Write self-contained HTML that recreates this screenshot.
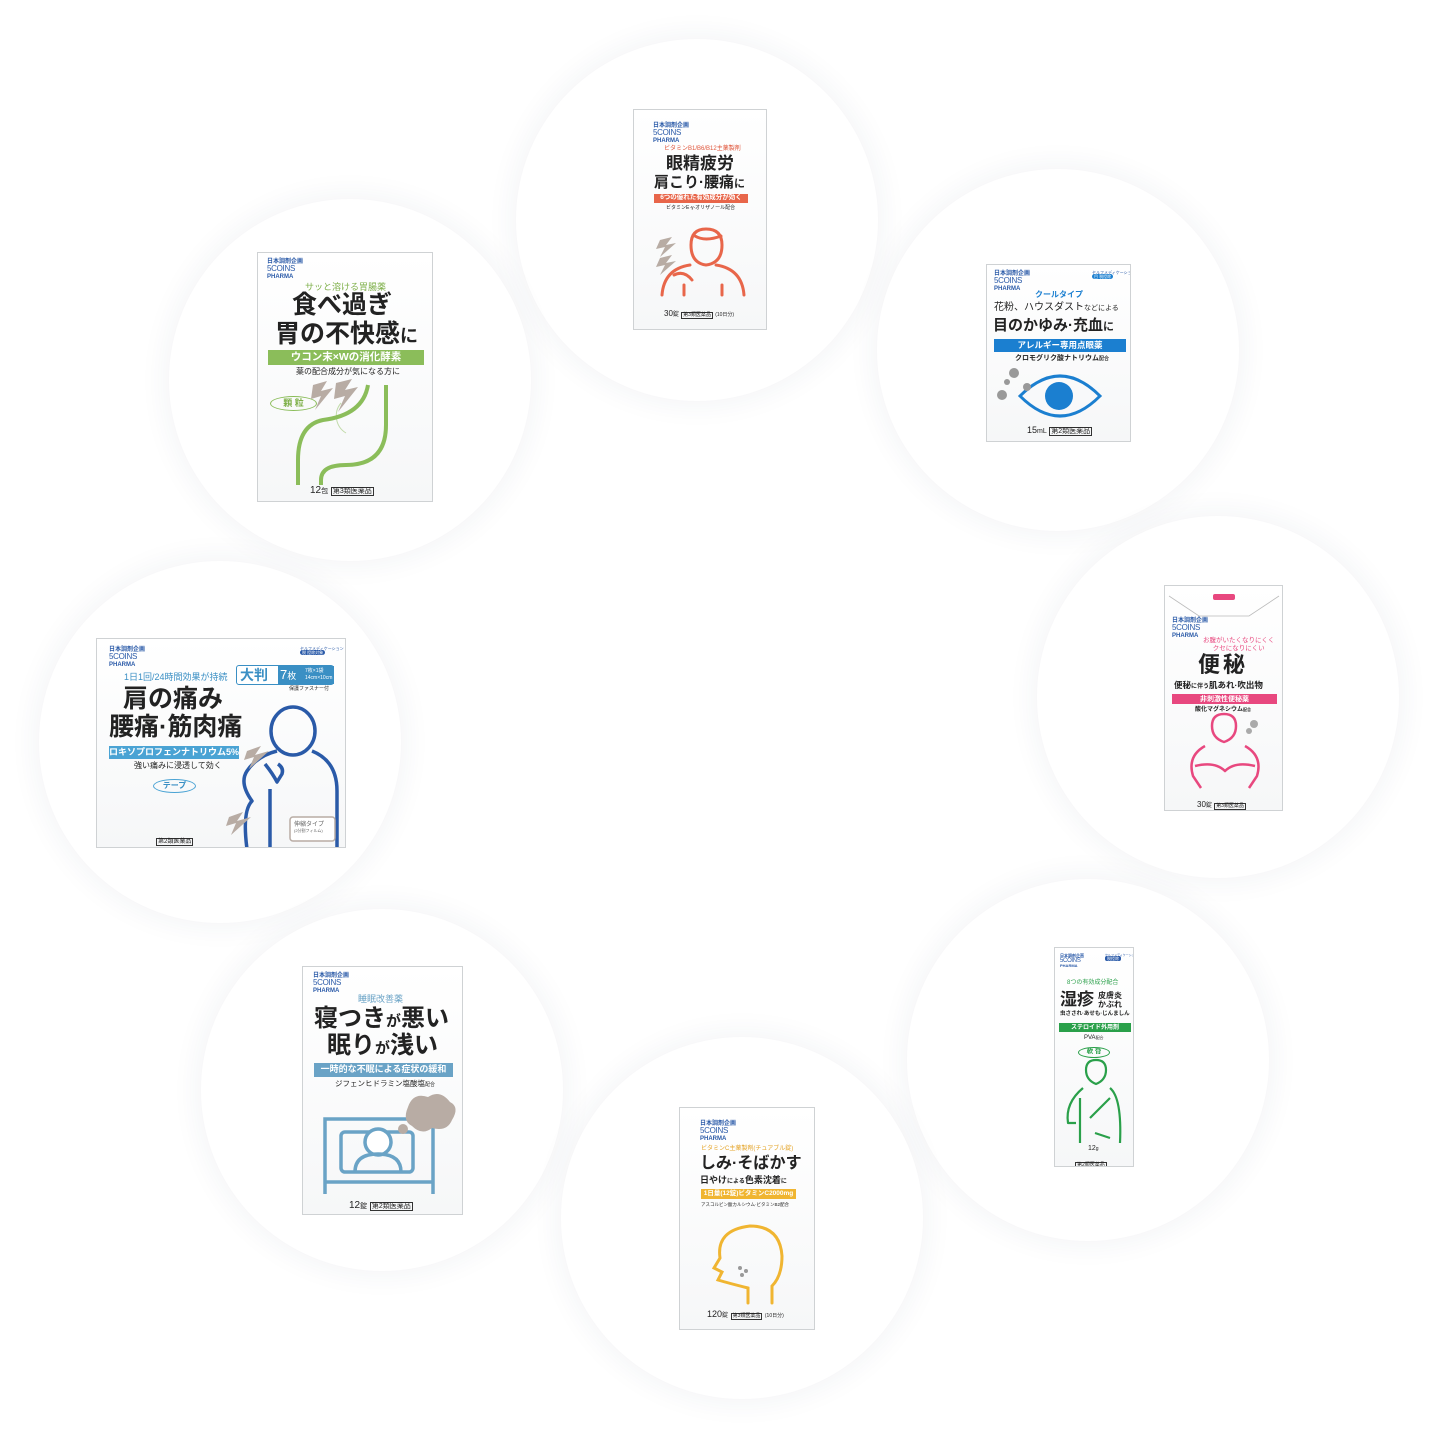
<!DOCTYPE html>
<html><head><meta charset="utf-8">
<style>
*{margin:0;padding:0;box-sizing:border-box}
body{width:1438px;height:1438px;background:#fff;position:relative;overflow:hidden;font-family:"Liberation Sans","Noto Sans CJK JP",sans-serif;color:#222}
.c{position:absolute;width:362px;height:362px;border-radius:50%;background:#fff;box-shadow:0 0 28px 4px rgba(40,50,90,0.055)}
.b{position:absolute;background:linear-gradient(#fff,#f6f7f8);border:1px solid #cfd2d4;overflow:hidden}
.a{position:absolute;white-space:nowrap;line-height:1}
.logo{position:absolute;line-height:1.05;font-size:6px;color:#2a5aa8;font-weight:bold}
.logo b{display:block;font-size:8px;font-weight:normal;letter-spacing:-0.3px}
.band{position:absolute;color:#fff;font-weight:bold;text-align:center;line-height:1}
.k{display:inline-block;border:1px solid #333;padding:0 1px;font-size:7px;line-height:1}
svg{position:absolute;overflow:visible}
</style></head><body>

<div class="c" style="left:516px;top:39px"></div>
<div class="c" style="left:169px;top:199px"></div>
<div class="c" style="left:877px;top:169px"></div>
<div class="c" style="left:39px;top:561px"></div>
<div class="c" style="left:1037px;top:516px"></div>
<div class="c" style="left:201px;top:909px"></div>
<div class="c" style="left:907px;top:879px"></div>
<div class="c" style="left:561px;top:1037px"></div>

<!-- 1 top -->
<div class="b" style="left:633px;top:109px;width:134px;height:221px">
 <div class="logo" style="left:19px;top:13px">日本調剤企画<b>5COINS</b>PHARMA</div>
 <div class="a" style="left:30px;top:36px;font-size:6px;color:#e0553a">ビタミンB1/B6/B12主薬製剤</div>
 <div class="a" style="left:32px;top:45px;font-size:17px;font-weight:bold">眼精疲労</div>
 <div class="a" style="left:20px;top:65px;font-size:15px;font-weight:bold">肩こり·腰痛<span style="font-size:11px">に</span></div>
 <div class="band" style="left:20px;top:84px;width:94px;height:9px;font-size:6.5px;background:#e8664a;padding-top:1px">6つの優れた有効成分が効く</div>
 <div class="a" style="left:32px;top:96px;font-size:5px">ビタミンE·γ-オリザノール配合</div>
 <svg width="134" height="221" style="left:0;top:0">
  <g fill="none" stroke="#e8664a" stroke-width="3" stroke-linecap="round">
   <path d="M57 135 q0 -16 15 -16 q16 0 16 16 q0 18 -16 20 q-15 -2 -15 -20"/>
   <path d="M61 126 q10 6 26 0"/>
   <path d="M28 185 q2 -26 28 -30 M110 185 q-2 -26 -28 -30"/>
   <path d="M50 185 v-10 M88 185 v-10"/>
   <path d="M40 165 q10 -5 18 5"/>
  </g>
  <g fill="#b8aca4"><path d="M26 130 l12 -3 -6 8 10 -2 -16 14 5 -10 -9 2z"/><path d="M26 148 l12 -3 -6 8 10 -2 -16 14 5 -10 -9 2z"/></g>
 </svg>
 <div class="a" style="left:30px;top:200px;font-size:8px">30<span style="font-size:6px">錠</span> <span class="k" style="font-size:5px">第3類医薬品</span> <span style="font-size:5px">(10日分)</span></div>
</div>

<!-- 2 upper-left -->
<div class="b" style="left:257px;top:252px;width:176px;height:250px">
 <div class="logo" style="left:9px;top:6px">日本調剤企画<b>5COINS</b>PHARMA</div>
 <div class="a" style="left:47px;top:30px;font-size:9px;color:#7fb04a">サッと溶ける胃腸薬</div>
 <div class="a" style="left:34px;top:40px;font-size:25px;font-weight:bold;color:#222">食べ過ぎ</div>
 <div class="a" style="left:17px;top:69px;font-size:25px;font-weight:bold;color:#222">胃の不快感<span style="font-size:18px">に</span></div>
 <div class="band" style="left:10px;top:97px;width:156px;height:15px;font-size:10.5px;background:#8bbd5a;padding-top:2px">ウコン末×Wの消化酵素</div>
 <div class="a" style="left:38px;top:115px;font-size:8px">薬の配合成分が気になる方に</div>
 <div class="a" style="left:12px;top:143px;width:47px;height:15px;border:1.5px solid #8bbd5a;border-radius:50%;color:#7fb04a;font-size:9px;font-weight:bold;text-align:center;padding-top:2px">顆 粒</div>
 <svg width="176" height="250" style="left:0;top:0">
  <g fill="none" stroke="#8bbd5a" stroke-width="4">
   <path d="M110 132 q-5 30 -45 35 q-25 5 -25 40 v25"/>
   <path d="M128 132 v40 q0 40 -40 40 q-25 0 -25 15 v5"/>
   <path d="M83 150 a20 20 0 0 0 5 30" stroke-width="1" opacity=".5"/>
  </g>
  <g fill="#b8aca4"><path d="M55 132 l14 -4 -6 10 12 -3 -18 22 6 -14 -10 3z"/><path d="M78 130 l16 -4 -7 11 13 -3 -20 25 7 -16 -11 3z"/></g>
 </svg>
 <div class="a" style="left:52px;top:233px;font-size:10px">12<span style="font-size:7px">包</span> <span class="k">第3類医薬品</span></div>
</div>

<!-- 3 upper-right -->
<div class="b" style="left:986px;top:264px;width:145px;height:178px">
 <div class="logo" style="left:7px;top:6px">日本調剤企画<b>5COINS</b>PHARMA</div>
 <div class="a" style="left:105px;top:6px;width:34px;height:14px;font-size:4px;color:#2a5aa8">セルフメディケーション<br><span style="background:#1b7fd0;color:#fff;border-radius:3px;padding:0 2px">目 税控除</span></div>
 <div class="a" style="left:48px;top:26px;font-size:8px;color:#1b7fd0;font-weight:bold">クールタイプ</div>
 <div class="a" style="left:7px;top:38px;font-size:10px">花粉、ハウスダスト<span style="font-size:7px">などによる</span></div>
 <div class="a" style="left:6px;top:53px;font-size:15px;font-weight:bold">目のかゆみ·充血<span style="font-size:11px">に</span></div>
 <div class="band" style="left:7px;top:74px;width:132px;height:13px;font-size:8.5px;background:#1b7fd0;padding-top:2px">アレルギー専用点眼薬</div>
 <div class="a" style="left:28px;top:90px;font-size:7px;font-weight:bold">クロモグリク酸ナトリウム<span style="font-size:5px">配合</span></div>
 <svg width="145" height="178" style="left:0;top:0">
  <path d="M33 131 q40 -40 80 0 q-40 40 -80 0z" fill="none" stroke="#1b7fd0" stroke-width="3"/>
  <circle cx="72" cy="131" r="14" fill="#1b7fd0"/>
  <g fill="#999"><circle cx="27" cy="108" r="5"/><circle cx="15" cy="130" r="5"/><circle cx="40" cy="122" r="4"/><circle cx="20" cy="117" r="3"/></g>
 </svg>
 <div class="a" style="left:40px;top:161px;font-size:9px">15<span style="font-size:7px">mL</span> <span class="k">第2類医薬品</span></div>
</div>

<!-- 4 left -->
<div class="b" style="left:96px;top:638px;width:250px;height:210px">
 <div class="logo" style="left:12px;top:8px">日本調剤企画<b>5COINS</b>PHARMA</div>
 <div class="a" style="left:203px;top:8px;font-size:4px;color:#2a5aa8">セルフメディケーション<br><span style="background:#2a5aa8;color:#fff;border-radius:3px;padding:0 2px">税 控除対象</span></div>
 <div class="a" style="left:27px;top:34px;font-size:9px;color:#3a8fc4">1日1回/24時間効果が持続</div>
 <div class="a" style="left:139px;top:26px;width:98px;height:20px;border:1.5px solid #3a8fc4;border-radius:3px;background:#fff">
  <span style="position:absolute;left:3px;top:2px;font-size:14px;font-weight:bold;color:#3a8fc4">大判</span>
  <span style="position:absolute;left:41px;top:0;width:56px;height:18px;background:#3a8fc4;color:#fff;font-size:13px;padding:2px 2px">7<span style="font-size:9px">枚</span><span style="position:absolute;left:27px;top:2px;font-size:5px;line-height:1.3">7枚×1袋<br>14cm×10cm</span></span>
 </div>
 <div class="a" style="left:192px;top:48px;font-size:5px">保護ファスナー付</div>
 <div class="a" style="left:26px;top:48px;font-size:25px;font-weight:bold">肩の痛み</div>
 <div class="a" style="left:12px;top:76px;font-size:25px;font-weight:bold">腰痛·筋肉痛</div>
 <div class="band" style="left:12px;top:107px;width:130px;height:13px;font-size:9px;background:#4aa3d4;padding-top:2px">ロキソプロフェンナトリウム5%</div>
 <div class="a" style="left:37px;top:123px;font-size:8px">強い痛みに浸透して効く</div>
 <div class="a" style="left:56px;top:140px;width:43px;height:14px;border:1.5px solid #4aa3d4;border-radius:50%;color:#3a8fc4;font-size:8px;font-weight:bold;text-align:center;padding-top:2px">テープ</div>
 <svg width="250" height="210" style="left:0;top:0">
  <g fill="none" stroke="#2a5aa8" stroke-width="3.5" stroke-linejoin="round">
   <ellipse cx="196" cy="92" rx="22" ry="24"/>
   <path d="M180 112 q-20 5 -30 20 q-8 12 5 30 q-10 10 -5 48"/>
   <path d="M215 112 q25 10 25 40 v58"/>
   <path d="M168 125 q8 10 12 18 l5 -8 q2 -6 -4 -10"/>
   <path d="M173 150 v60"/>
  </g>
  <g fill="#b8aca4"><path d="M150 112 l14 -5 -6 9 14 -4 -20 18 5 -12 -10 3z"/><path d="M132 178 l14 -5 -6 9 14 -4 -20 18 5 -12 -10 3z"/></g>
  <rect x="193" y="178" width="45" height="24" fill="#fff" stroke="#b8aca4" stroke-width="1.5" rx="3"/>
 </svg>
 <div class="a" style="left:197px;top:183px;font-size:6px;color:#666">伸縮タイプ<br><span style="font-size:4px">(2分割フィルム)</span></div>
 <div class="a" style="left:59px;top:192px"><span class="k" style="font-size:6px">第2類医薬品</span></div>
</div>

<!-- 5 right -->
<div class="b" style="left:1164px;top:585px;width:119px;height:226px">
 <svg width="119" height="226" style="left:0;top:0"><path d="M4 10 l30 20 h50 l30 -20" fill="none" stroke="#bbb" stroke-width="0.8"/><rect x="48" y="8" width="22" height="6" fill="#e8487f" rx="2"/></svg>
 <div class="logo" style="left:7px;top:32px">日本調剤企画<b>5COINS</b>PHARMA</div>
 <div class="a" style="left:38px;top:51px;font-size:6.5px;color:#e8487f;text-align:center;line-height:1.2">お腹がいたくなりにくく<br>クセになりにくい</div>
 <div class="a" style="left:33px;top:68px;font-size:22px;font-weight:bold;letter-spacing:3px">便秘</div>
 <div class="a" style="left:9px;top:95px;font-size:8.5px;font-weight:bold">便秘<span style="font-size:6px">に伴う</span>肌あれ·吹出物</div>
 <div class="band" style="left:7px;top:108px;width:105px;height:10px;font-size:7px;background:#e8487f;padding-top:1.5px">非刺激性便秘薬</div>
 <div class="a" style="left:30px;top:121px;font-size:6px;font-weight:bold">酸化マグネシウム<span style="font-size:4px">配合</span></div>
 <svg width="119" height="226" style="left:0;top:0">
  <g fill="none" stroke="#e8487f" stroke-width="2.5" stroke-linejoin="round">
   <path d="M47 140 q0 -12 12 -12 q12 0 12 12 q0 12 -12 16 q-12 -4 -12 -16"/>
   <path d="M40 160 q-18 10 -12 30 l8 12 M80 160 q18 10 12 30 l-8 12"/>
   <path d="M30 180 q20 -5 30 5 q10 -10 30 -5"/>
  </g>
  <g fill="#aaa"><circle cx="89" cy="138" r="4"/><circle cx="84" cy="145" r="3"/></g>
 </svg>
 <div class="a" style="left:32px;top:215px;font-size:8px">30<span style="font-size:6px">錠</span> <span class="k" style="font-size:5px">第3類医薬品</span></div>
</div>

<!-- 6 lower-left -->
<div class="b" style="left:302px;top:966px;width:161px;height:249px">
 <div class="logo" style="left:10px;top:6px">日本調剤企画<b>5COINS</b>PHARMA</div>
 <div class="a" style="left:55px;top:28px;font-size:9px;color:#6aa3c6">睡眠改善薬</div>
 <div class="a" style="left:11px;top:40px;font-size:24px;font-weight:bold">寝つき<span style="font-size:15px">が</span>悪い</div>
 <div class="a" style="left:24px;top:67px;font-size:24px;font-weight:bold">眠り<span style="font-size:15px">が</span>浅い</div>
 <div class="band" style="left:11px;top:96px;width:139px;height:14px;font-size:9px;background:#6aa3c6;padding-top:2px">一時的な不眠による症状の緩和</div>
 <div class="a" style="left:32px;top:113px;font-size:7.5px">ジフェンヒドラミン塩酸塩<span style="font-size:5px">配合</span></div>
 <svg width="161" height="249" style="left:0;top:0">
  <g fill="none" stroke="#6aa3c6" stroke-width="3.5">
   <path d="M22 227 v-75 h108 v75 M22 215 h108"/>
   <rect x="38" y="165" width="72" height="40" rx="4"/>
   <circle cx="75" cy="175" r="13" fill="#fff"/>
   <path d="M52 205 q0 -18 23 -18 q23 0 23 18"/>
  </g>
  <path d="M105 140 q5 -15 20 -10 q12 -8 22 5 q10 5 2 18 q-5 12 -20 8 q-10 8 -20 -2 q-10 -5 -4 -19z" fill="#b8aca4"/>
  <circle cx="100" cy="162" r="5" fill="#b8aca4"/>
 </svg>
 <div class="a" style="left:46px;top:234px;font-size:10px">12<span style="font-size:7px">錠</span> <span class="k">第2類医薬品</span></div>
</div>

<!-- 7 lower-right -->
<div class="b" style="left:1054px;top:947px;width:80px;height:220px">
 <div class="logo" style="left:5px;top:6px;font-size:4px">日本調剤企画<b style="font-size:6px">5COINS</b>PHARMA</div>
 <div class="a" style="left:50px;top:6px;font-size:3px;color:#2a5aa8">セルフメディケーション<br><span style="background:#2a5aa8;color:#fff;border-radius:2px;padding:0 2px;font-size:4px">税控除</span></div>
 <div class="a" style="left:12px;top:32px;font-size:6px;color:#2aa04a">8つの有効成分配合</div>
 <div class="a" style="left:5px;top:43px;font-size:17px;font-weight:bold">湿疹</div>
 <div class="a" style="left:43px;top:44px;font-size:8px;font-weight:bold;line-height:1.1">皮膚炎<br>かぶれ</div>
 <div class="a" style="left:5px;top:64px;font-size:5.5px;font-weight:bold">虫さされ·あせも·じんましん</div>
 <div class="band" style="left:4px;top:75px;width:72px;height:9px;font-size:6px;background:#2aa04a;padding-top:1.5px">ステロイド外用剤</div>
 <div class="a" style="left:29px;top:87px;font-size:6px">PVA<span style="font-size:4px">配合</span></div>
 <div class="a" style="left:23px;top:99px;width:32px;height:11px;border:1px solid #2aa04a;border-radius:50%;color:#2aa04a;font-size:6.5px;font-weight:bold;text-align:center;padding-top:1px">軟 膏</div>
 <svg width="80" height="220" style="left:0;top:0">
  <g fill="none" stroke="#2aa04a" stroke-width="2.2" stroke-linejoin="round">
   <path d="M31 122 q0 -10 10 -10 q10 0 10 10 q0 10 -10 14 q-10 -4 -10 -14"/>
   <path d="M28 140 q-18 15 -15 35 h8 M55 140 q12 10 10 55 M25 150 v45 M35 170 l20 -20 M40 185 l15 5"/>
  </g>
 </svg>
 <div class="a" style="left:33px;top:197px;font-size:7px">12<span style="font-size:5px">g</span></div>
 <div class="a" style="left:20px;top:206px"><span class="k" style="font-size:5px">第2類医薬品</span></div>
</div>

<!-- 8 bottom -->
<div class="b" style="left:679px;top:1107px;width:136px;height:223px">
 <div class="logo" style="left:20px;top:13px">日本調剤企画<b>5COINS</b>PHARMA</div>
 <div class="a" style="left:21px;top:38px;font-size:6px;color:#e5a52a">ビタミンC主薬製剤(チュアブル錠)</div>
 <div class="a" style="left:20px;top:48px;font-size:16px;font-weight:bold">しみ·そばかす</div>
 <div class="a" style="left:20px;top:68px;font-size:9px;font-weight:bold">日やけ<span style="font-size:6px">による</span>色素沈着<span style="font-size:6px">に</span></div>
 <div class="band" style="left:21px;top:81px;width:95px;height:10px;font-size:6.5px;background:#f0b531;padding-top:1.5px">1日量(12錠)ビタミンC2000mg</div>
 <div class="a" style="left:21px;top:95px;font-size:4.5px">アスコルビン酸カルシウム·ビタミンB2配合</div>
 <svg width="136" height="223" style="left:0;top:0">
  <g fill="none" stroke="#f0b531" stroke-width="3" stroke-linecap="round">
   <path d="M68 195 v-15 q-20 -5 -30 -8 l4 -8 -8 -4 6 -10 q-4 -28 30 -32 q30 0 32 30 q0 20 -10 30 v17"/>
  </g>
  <g fill="#999"><circle cx="60" cy="160" r="2"/><circle cx="66" cy="163" r="2"/><circle cx="62" cy="167" r="2"/></g>
 </svg>
 <div class="a" style="left:27px;top:202px;font-size:9px">120<span style="font-size:6px">錠</span> <span class="k" style="font-size:5px">第3類医薬品</span> <span style="font-size:5px">(10日分)</span></div>
</div>

</body></html>
